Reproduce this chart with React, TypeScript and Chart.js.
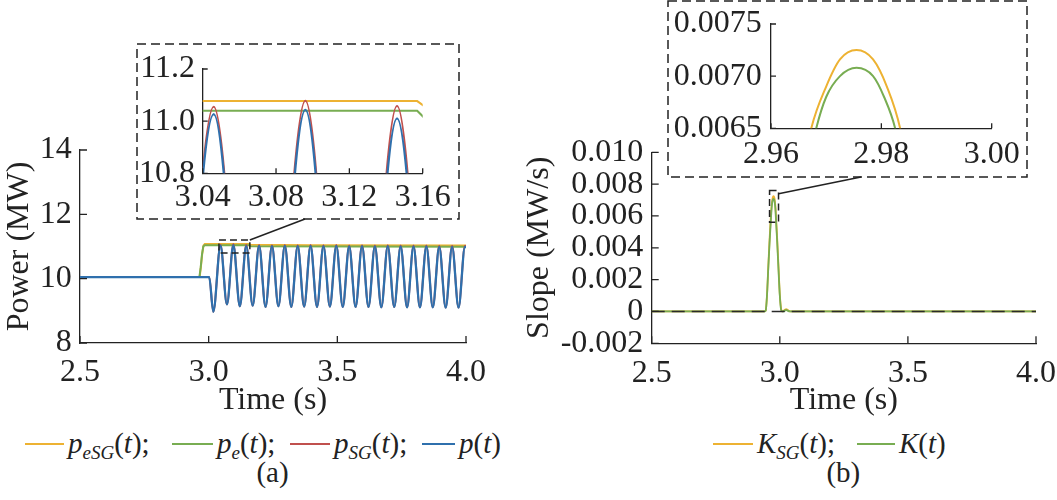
import { useEffect, useRef, type ReactNode } from "react"
import { Chart, registerables, type ChartConfiguration, type Plugin } from "chart.js"

Chart.register(...registerables)

const SERIF = '"Liberation Serif", "Times New Roman", serif'
const INK = "#222222"
const C_ESG = "#EDB232"
const C_E = "#78AD52"
const C_SG = "#C0504D"
const C_P = "#2F70AD"

// (a) power in MW
const PESG_T = [2.5, 2.965, 2.97, 2.975, 2.98, 2.985, 3.157, 3.162, 3.4, 4.0]
const PESG_V = [10.05, 10.05, 10.38, 10.78, 11.03, 11.077, 11.077, 11.052, 11.04, 11.03]
const PE_T = [2.5, 2.964, 2.969, 2.974, 2.979, 2.984, 3.157, 3.162, 4.0]
const PE_V = [10.05, 10.05, 10.35, 10.75, 11.0, 11.04, 11.04, 11.005, 10.99]

// peaks and troughs of the oscillation (shared by p and pSG)
const P_T = [
  2.5, 3.002, 3.018, 3.046, 3.071, 3.096, 3.121, 3.146, 3.171, 3.196, 3.221, 3.246, 3.271, 3.296,
  3.321, 3.346, 3.371, 3.396, 3.421, 3.446, 3.471, 3.496, 3.521, 3.546, 3.571, 3.596, 3.621, 3.646,
  3.671, 3.696, 3.721, 3.746, 3.771, 3.796, 3.821, 3.846, 3.871, 3.896, 3.921, 3.946, 3.971, 3.996,
  4.0,
]
const P_V = [
  10.05, 10.05, 8.97, 11.027, 9.2, 11.043, 9.14, 11.011, 9.16, 11.02, 9.12, 11.01, 9.14, 11.02,
  9.12, 11.01, 9.13, 11.02, 9.12, 11.01, 9.13, 11.02, 9.12, 11.0, 9.12, 11.01, 9.12, 11.0,
  9.11, 11.01, 9.12, 11.0, 9.11, 11.0, 9.11, 11.0, 9.11, 10.99, 9.1, 10.99, 9.1, 10.99,
  10.96,
]
const PSG_V = [
  10.05, 10.05, 8.97, 11.055, 9.2, 11.078, 9.14, 11.058, 9.16, 11.05, 9.12, 11.04, 9.14, 11.05,
  9.12, 11.04, 9.13, 11.05, 9.12, 11.04, 9.13, 11.05, 9.12, 11.03, 9.12, 11.04, 9.12, 11.03,
  9.11, 11.04, 9.12, 11.03, 9.11, 11.03, 9.11, 11.03, 9.11, 11.02, 9.1, 11.02, 9.1, 11.02,
  10.99,
]

// (b) slope in MW/s
const KSG_T = [
  2.5, 2.94, 2.945, 2.95, 2.955, 2.96, 2.9673, 2.97, 2.9725, 2.9755, 2.9785, 2.981, 2.9834, 2.985,
  2.99, 2.995, 3.0, 3.005, 3.01, 3.02, 3.025, 3.03, 3.04, 4.0,
]
const KSG_V = [
  0, 0, 0.00005, 0.001, 0.0028, 0.0045, 0.0065, 0.0069, 0.00716, 0.00725, 0.00716, 0.0069, 0.0065, 0.006,
  0.0045, 0.0028, 0.0011, 0.0002, 0, 0.0001, 0.00015, 0.0001, 0, 0,
]
const K_T = [
  2.5, 2.94, 2.945, 2.95, 2.955, 2.96, 2.965, 2.9682, 2.97, 2.9725, 2.9755, 2.9785, 2.9805, 2.9825,
  2.985, 2.99, 2.995, 3.0, 3.005, 3.01, 3.02, 3.025, 3.03, 3.04, 4.0,
]
const K_V = [
  0, 0, 0.00005, 0.001, 0.0027, 0.0043, 0.0057, 0.0065, 0.0068, 0.007, 0.00708, 0.007, 0.0068, 0.0065,
  0.0058, 0.0043, 0.0026, 0.001, 0.0001, 0, 0.00005, 0.0001, 0.00005, 0, 0,
]
const REF_T = [2.5, 4.0]
const REF_V = [0, 0]

// tick values
const A_X_TICKS = [2.5, 3.0, 3.5, 4.0]
const A_Y_TICKS = [8, 10, 12, 14]
const A_ZOOM_X_TICKS = [3.04, 3.08, 3.12, 3.16]
const A_ZOOM_Y_TICKS = [10.8, 11.0, 11.2]
const B_X_TICKS = [2.5, 3.0, 3.5, 4.0]
const B_Y_TICKS = [-0.002, 0, 0.002, 0.004, 0.006, 0.008, 0.01]
const B_ZOOM_X_TICKS = [2.96, 2.98, 3.0]
const B_ZOOM_Y_TICKS = [0.0065, 0.007, 0.0075]

type Box = { left: number; top: number; width: number; height: number }
type Area = { left: number; top: number; right: number; bottom: number }
type AxisSpec = {
  min: number
  max: number
  ticks: number[]
  fmt: (v: number) => string
  pad: number
  title?: string
}
type PanelSpec = {
  box: Box
  area: Area
  x: AxisSpec
  y: AxisSpec
  datasets: any[]
  tickLen: number
  decorate?: (chart: Chart) => void
}

const series = (T: number[], V: number[], color: string, width: number, order: number, smooth = true) => ({
  data: T.map((t, i) => ({ x: t, y: V[i] })),
  borderColor: color,
  borderWidth: width,
  pointRadius: 0,
  fill: false,
  order,
  tension: 0,
  cubicInterpolationMode: smooth ? "monotone" : "default",
})

const scale = (a: AxisSpec, fit: (s: any) => void) => ({
  type: "linear",
  min: a.min,
  max: a.max,
  grid: { display: false, drawTicks: false, drawOnChartArea: false },
  border: { display: true, color: INK, width: 1.3 },
  afterBuildTicks: (s: any) => {
    s.ticks = a.ticks.map((value) => ({ value }))
  },
  afterFit: fit,
  ticks: {
    padding: a.pad,
    autoSkip: false,
    maxRotation: 0,
    minRotation: 0,
    color: INK,
    font: { family: SERIF, size: 32 },
    callback: (v: any) => a.fmt(Number(v)),
  },
  title: {
    display: !!a.title,
    text: a.title ?? "",
    color: INK,
    font: { family: SERIF, size: 32 },
    padding: 0,
  },
})

// MATLAB style ticks pointing into the plot
const inwardTicks = (len: number): Plugin => ({
  id: "inwardTicks",
  afterDatasetsDraw(chart) {
    const { ctx, chartArea: a } = chart
    const xs = chart.scales.x
    const ys = chart.scales.y
    ctx.save()
    ctx.strokeStyle = INK
    ctx.lineWidth = 1.3
    ctx.beginPath()
    for (const t of xs.ticks) {
      const p = xs.getPixelForValue(t.value)
      ctx.moveTo(p, a.bottom)
      ctx.lineTo(p, a.bottom - len)
    }
    for (const t of ys.ticks) {
      const p = ys.getPixelForValue(t.value)
      ctx.moveTo(a.left, p)
      ctx.lineTo(a.left + len, p)
    }
    ctx.stroke()
    ctx.restore()
  },
})

function panel(p: PanelSpec): ChartConfiguration {
  const l = p.area.left - p.box.left
  const t = p.area.top - p.box.top
  const r = p.box.width - (p.area.right - p.box.left)
  const b = p.box.height - (p.area.bottom - p.box.top)
  const plugins: Plugin[] = [inwardTicks(p.tickLen)]
  if (p.decorate) {
    const fn = p.decorate
    plugins.push({ id: "decorate", afterDraw: (chart) => fn(chart) })
  }
  return {
    type: "line",
    data: { datasets: p.datasets },
    options: {
      responsive: true,
      maintainAspectRatio: false,
      animation: false,
      events: [],
      layout: { padding: { left: 0, top: t, right: r, bottom: 0 } },
      plugins: { legend: { display: false }, tooltip: { enabled: false } },
      scales: {
        x: scale(p.x, (s) => {
          s.height = b
          s.paddingLeft = 0
          s.paddingRight = 0
        }),
        y: scale(p.y, (s) => {
          s.width = l
          s.paddingTop = 0
          s.paddingBottom = 0
        }),
      },
    } as any,
    plugins,
  }
}

// dashed inset frame, dashed zoom box and the leader line
function zoomMarks(
  chart: Chart,
  frame: Area,
  box: [number, number, number, number],
  from: [number, number],
  to: [number, number],
) {
  const { ctx } = chart
  const xs = chart.scales.x
  const ys = chart.scales.y
  ctx.save()
  ctx.strokeStyle = INK
  ctx.lineWidth = 1.5
  ctx.setLineDash([9, 5])
  ctx.strokeRect(frame.left, frame.top, frame.right - frame.left, frame.bottom - frame.top)
  const x0 = xs.getPixelForValue(box[0])
  const x1 = xs.getPixelForValue(box[1])
  const y0 = ys.getPixelForValue(box[3])
  const y1 = ys.getPixelForValue(box[2])
  ctx.setLineDash([7, 4])
  ctx.strokeRect(x0, y0, x1 - x0, y1 - y0)
  ctx.setLineDash([])
  ctx.beginPath()
  ctx.moveTo(xs.getPixelForValue(from[0]), ys.getPixelForValue(from[1]))
  ctx.lineTo(to[0], to[1])
  ctx.stroke()
  ctx.restore()
}

const powerSets = (w: number) => [
  series(PESG_T, PESG_V, C_ESG, w, 3, false),
  series(PE_T, PE_V, C_E, w, 2, false),
  series(P_T, PSG_V, C_SG, w, 1),
  series(P_T, P_V, C_P, w + 0.3, 0),
]

const slopeSets = (w: number, withRef: boolean) => {
  const sets: any[] = [series(KSG_T, KSG_V, C_ESG, w, 2), series(K_T, K_V, C_E, w, 1)]
  if (withRef) {
    sets.push({ ...series(REF_T, REF_V, "#2a2a2a", 1.5, 0, false), borderDash: [13, 7] })
  }
  return sets
}

const f1 = (v: number) => v.toFixed(1)
const f2 = (v: number) => v.toFixed(2)

const A_BOX: Box = { left: 0, top: 0, width: 520, height: 420 }
const A_ZOOM_BOX: Box = { left: 137, top: 44, width: 322, height: 175 }
const B_BOX: Box = { left: 520, top: 0, width: 537, height: 420 }
const B_ZOOM_BOX: Box = { left: 668, top: 0, width: 359, height: 177 }

const makeA = () =>
  panel({
    box: A_BOX,
    area: { left: 80, top: 150, right: 466, bottom: 343 },
    x: { min: 2.5, max: 4.0, ticks: A_X_TICKS, fmt: f1, pad: 10.5, title: "Time (s)" },
    y: { min: 8, max: 14, ticks: A_Y_TICKS, fmt: (v) => String(v), pad: 8.3, title: "Power (MW)" },
    datasets: powerSets(2),
    tickLen: 7,
    decorate: (c) =>
      zoomMarks(c, { left: 137, top: 44, right: 459, bottom: 219 }, [3.04, 3.16, 10.8, 11.2], [3.16, 11.2], [305, 219]),
  })

const makeAZoom = () =>
  panel({
    box: A_ZOOM_BOX,
    area: { left: 202.7, top: 69, right: 422.7, bottom: 173.3 },
    x: { min: 3.04, max: 3.16, ticks: A_ZOOM_X_TICKS, fmt: f2, pad: 5 },
    y: { min: 10.8, max: 11.2, ticks: A_ZOOM_Y_TICKS, fmt: f1, pad: 7.7 },
    datasets: powerSets(2),
    tickLen: 5,
  })

const makeB = () =>
  panel({
    box: B_BOX,
    area: { left: 651.7, top: 152.3, right: 1036, bottom: 343.3 },
    x: { min: 2.5, max: 4.0, ticks: B_X_TICKS, fmt: f1, pad: 11, title: "Time (s)" },
    y: {
      min: -0.002,
      max: 0.01,
      ticks: B_Y_TICKS,
      fmt: (v) => (v === 0 ? "0" : v.toFixed(3)),
      pad: 8.4,
      title: "Slope (MW/s)",
    },
    datasets: slopeSets(1.8, true),
    tickLen: 7,
    decorate: (c) =>
      zoomMarks(
        c,
        { left: 148, top: 1, right: 507, bottom: 177 },
        [2.96, 2.995, 0.0056, 0.0076],
        [2.995, 0.0074],
        [341, 177],
      ),
  })

const makeBZoom = () =>
  panel({
    box: B_ZOOM_BOX,
    area: { left: 771, top: 24, right: 991.7, bottom: 128.3 },
    x: { min: 2.96, max: 3.0, ticks: B_ZOOM_X_TICKS, fmt: f2, pad: 7.5 },
    y: { min: 0.0065, max: 0.0075, ticks: B_ZOOM_Y_TICKS, fmt: (v) => v.toFixed(4), pad: 9.3 },
    datasets: slopeSets(2, false),
    tickLen: 5,
  })

function Plot({ box, make }: { box: Box; make: () => ChartConfiguration }) {
  const ref = useRef<HTMLCanvasElement>(null)
  useEffect(() => {
    if (!ref.current) return
    const chart = new Chart(ref.current, make())
    return () => chart.destroy()
  }, [make])
  return (
    <div style={{ position: "absolute", left: box.left, top: box.top, width: box.width, height: box.height }}>
      <canvas ref={ref} />
    </div>
  )
}

const Sub = ({ children }: { children: ReactNode }) => (
  <span style={{ fontSize: 19, fontStyle: "italic", position: "relative", top: 6.5, lineHeight: 0 }}>{children}</span>
)

function LegendItem({ x, w, color, children }: { x: number; w: number; color: string; children: ReactNode }) {
  return (
    <div
      style={{
        position: "absolute",
        left: x,
        top: 428.7,
        fontFamily: SERIF,
        fontSize: 29,
        lineHeight: "29px",
        whiteSpace: "nowrap",
        color: INK,
      }}
    >
      <span
        style={{ display: "inline-block", width: w, height: 2, background: color, verticalAlign: "7.5px", marginRight: 4 }}
      />
      {children}
    </div>
  )
}

function Caption({ cx, text }: { cx: number; text: string }) {
  return (
    <div
      style={{
        position: "absolute",
        left: cx - 50,
        width: 100,
        top: 457.7,
        textAlign: "center",
        fontFamily: SERIF,
        fontSize: 29,
        lineHeight: "29px",
        color: INK,
      }}
    >
      {text}
    </div>
  )
}

export default function App() {
  return (
    <div style={{ position: "absolute", left: 0, top: 0, width: 1057, height: 500, background: "#fff", overflow: "hidden" }}>
      <Plot box={A_BOX} make={makeA} />
      <Plot box={A_ZOOM_BOX} make={makeAZoom} />
      <Plot box={B_BOX} make={makeB} />
      <Plot box={B_ZOOM_BOX} make={makeBZoom} />

      <LegendItem x={25} w={39} color={C_ESG}>
        <i>p</i>
        <Sub>eSG</Sub>(<i>t</i>);
      </LegendItem>
      <LegendItem x={172} w={41} color={C_E}>
        <i>p</i>
        <Sub>e</Sub>(<i>t</i>);
      </LegendItem>
      <LegendItem x={290} w={40} color={C_SG}>
        <i>p</i>
        <Sub>SG</Sub>(<i>t</i>);
      </LegendItem>
      <LegendItem x={422} w={33} color={C_P}>
        <i>p</i>(<i>t</i>)
      </LegendItem>
      <Caption cx={272.5} text="(a)" />

      <LegendItem x={713} w={40} color={C_ESG}>
        <i>K</i>
        <Sub>SG</Sub>(<i>t</i>);
      </LegendItem>
      <LegendItem x={857} w={38} color={C_E}>
        <i>K</i>(<i>t</i>)
      </LegendItem>
      <Caption cx={843.3} text="(b)" />
    </div>
  )
}
